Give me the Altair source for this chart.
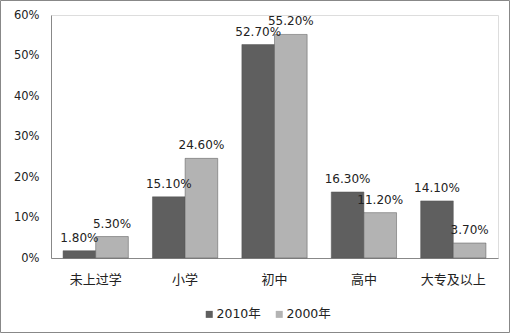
import altair as alt
import pandas as pd

categories = ["未上过学", "小学", "初中", "高中", "大专及以上"]
series = ["2010年", "2000年"]
v2010 = [1.8, 15.1, 52.7, 16.3, 14.1]
v2000 = [5.3, 24.6, 55.2, 11.2, 3.7]

rows = []
for c, a, b in zip(categories, v2010, v2000):
    rows.append({"cat": c, "year": "2010年", "v": a / 100, "lab": f"{a:.2f}%"})
    rows.append({"cat": c, "year": "2000年", "v": b / 100, "lab": f"{b:.2f}%"})
df = pd.DataFrame(rows)

FONT = "DejaVu Sans, Noto Sans CJK SC"

base = alt.Chart(df).encode(
    x=alt.X("cat:N", sort=categories, title=None,
            scale=alt.Scale(paddingInner=0.27, paddingOuter=0.135),
            axis=alt.Axis(labelAngle=0, ticks=False, domainColor="#888",
                          labelPadding=15, labelFontSize=13, labelColor="#222",
                          labelFont=FONT)),
    xOffset=alt.XOffset("year:N", sort=series),
)

bars = base.mark_bar(stroke="#555", strokeWidth=0.5).encode(
    y=alt.Y("v:Q", title=None,
            scale=alt.Scale(domain=[0, 0.6]),
            axis=alt.Axis(format=".0%", values=[0, 0.1, 0.2, 0.3, 0.4, 0.5, 0.6],
                          ticks=False, grid=False, domainColor="#888",
                          labelPadding=12, labelFontSize=11.5, labelColor="#222",
                          labelFont=FONT)),
    color=alt.Color("year:N", sort=series,
                    scale=alt.Scale(domain=series, range=["#5f5f5f", "#b3b3b3"]),
                    legend=alt.Legend(title=None, orient="none", direction="horizontal",
                                      legendX=152, legendY=293, symbolType="square",
                                      symbolSize=49, symbolStrokeWidth=0,
                                      labelFontSize=12.5, labelFont=FONT,
                                      labelColor="#222", columnPadding=12,
                                      labelOffset=1)),
)

labels = base.mark_text(dy=-13, fontSize=12, font=FONT, color="#222").encode(
    y=alt.Y("v:Q"),
    text="lab:N",
)

frame = alt.Chart(pd.DataFrame({"a": [0]})).mark_rect(
    fill="transparent", stroke="#888", strokeWidth=1
).encode(
    x=alt.value(-50.5), x2=alt.value(458.5),
    y=alt.value(-14.5), y2=alt.value(317.5),
)

chart = alt.layer(bars, labels, frame).properties(
    width=447, height=243,
    autosize=alt.AutoSizeParams(type="none"),
    padding={"left": 51, "top": 15, "right": 13, "bottom": 76},
).configure_view(stroke=None).configure(background="white")

chart.save("out.html", embed_options={"renderer": "svg", "actions": False})
